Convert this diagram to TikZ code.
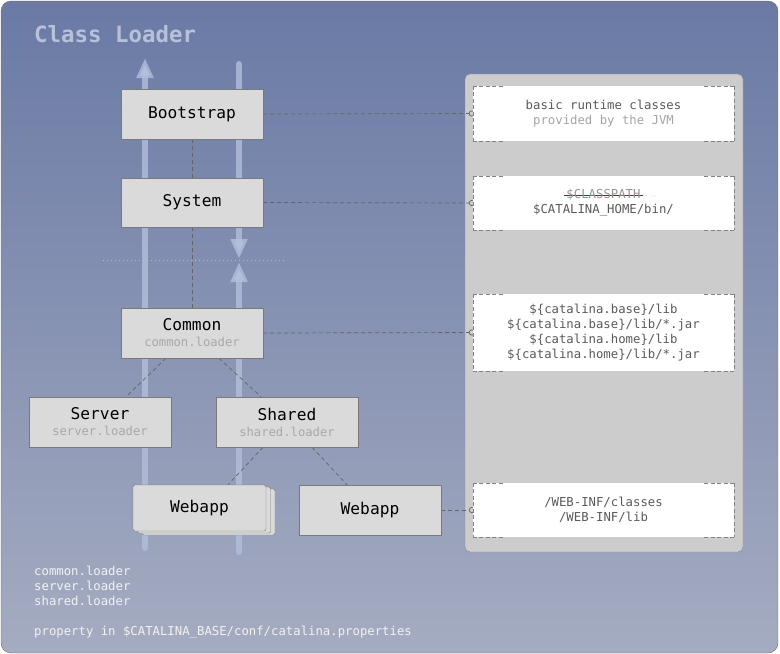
\documentclass[tikz,border=0pt]{standalone}
\usepackage{fontspec}
\usetikzlibrary{arrows.meta,shadows}
\newfontfamily\codefont{DejaVu Sans Mono}
\definecolor{bgtop}{RGB}{106,122,165}
\definecolor{bgbot}{RGB}{165,172,193}
\definecolor{outline}{RGB}{110,110,110}
\definecolor{boxfill}{RGB}{218,218,218}
\definecolor{boxline}{RGB}{122,122,122}
\definecolor{panelfill}{RGB}{204,204,204}
\definecolor{panelline}{RGB}{136,136,136}
\definecolor{dashline}{RGB}{100,100,100}
\definecolor{titlecol}{RGB}{183,193,218}
\definecolor{subtext}{RGB}{168,168,168}
\definecolor{infotext}{RGB}{90,90,90}
\definecolor{infolight}{RGB}{165,165,165}
\definecolor{foottext}{RGB}{242,242,242}
\definecolor{flowcol}{RGB}{178,190,218}
\definecolor{strikered}{RGB}{160,20,40}
\newsavebox\strikebox
\newcommand\redstrike[1]{\sbox\strikebox{#1}\rlap{\textcolor{strikered}{\rule[0.45ex]{\wd\strikebox}{1pt}}}\usebox\strikebox}
\pgfdeclarelayer{back}
\pgfdeclarelayer{mid}
\pgfsetlayers{back,mid,main}

\begin{document}
\begin{tikzpicture}[x=1pt,y=-1pt,
  loader/.style={draw=boxline,fill=boxfill,minimum width=142pt,minimum height=50pt,inner sep=0pt,align=center,
    font=\codefont\fontsize{16.2}{18}\selectfont},
  info/.style={fill=white,minimum width=261pt,inner sep=0pt,align=center,text=infotext,
    font=\codefont\fontsize{12.3}{15}\selectfont},
  infoedge/.style={draw=dashline!80,dash pattern=on 4pt off 2.5pt,line width=0.6pt},
  link/.style={draw=dashline,dash pattern=on 4pt off 3pt,line width=0.7pt},
  flow/.style={draw=flowcol,draw opacity=0.8,line width=6pt,line cap=round,-{Triangle[width=16pt,length=20pt]}}]
\useasboundingbox (0,0) rectangle (780,654);
\begin{pgfonlayer}{back}
  \path[draw=outline,top color=bgtop,bottom color=bgbot,rounded corners=10pt] (1,1) rectangle (778,653);
  \path[draw=panelline,fill=panelfill,rounded corners=5pt] (465,74) rectangle (743,552);
  \draw[flow] (145,548) -- (145,58);
  \draw[flow] (239,64) -- (239,259);
  \draw[flow] (239,552) -- (239,262);
  \draw[flowcol,dash pattern=on 1pt off 3pt] (103,260) -- (285,260);
\end{pgfonlayer}

\node[anchor=base west,inner sep=0pt,text=titlecol,font=\codefont\bfseries\fontsize{22.4}{24}\selectfont] (title) at (34,42) {Class Loader};

\node[loader] (bootstrap) at (192,114) {Bootstrap};
\node[loader,minimum height=49pt] (system) at (192,202.5) {System};
\node[loader] (common) at (192,333) {Common\\[-2pt]{\fontsize{12.2}{14}\selectfont\color{subtext}common.loader}};
\node[loader] (server) at (100,422) {Server\\[-2pt]{\fontsize{12.2}{14}\selectfont\color{subtext}server.loader}};
\node[loader] (shared) at (287,422) {Shared\\[-2pt]{\fontsize{12.2}{14}\selectfont\color{subtext}shared.loader}};
\node[loader,minimum width=133pt,minimum height=46pt,rounded corners=2pt,
  double copy shadow={shadow xshift=4.5pt,shadow yshift=-2pt,fill=boxfill,draw=boxline,thin}] (webapps) at (199.5,508) {Webapp};
\node[loader] (webapp) at (370,510) {Webapp};

\node[info,minimum height=55pt] (jvm) at (603.5,113.5) {basic runtime classes\\\textcolor{infolight}{provided by the JVM}};
\node[info,minimum height=54pt] (cpath) at (603.5,203) {{\color{infolight!90!black}\redstrike{\,\$CLASSPATH\,}}\\\$CATALINA\_HOME/bin/};
\node[info,minimum height=77pt] (clib) at (603.5,332.5) {\$\{catalina.base\}/lib\\\$\{catalina.base\}/lib/*.jar\\\$\{catalina.home\}/lib\\\$\{catalina.home\}/lib/*.jar};
\node[info,minimum height=54pt] (winf) at (603.5,510) {/WEB-INF/classes\\/WEB-INF/lib};
\foreach \b in {jvm,cpath,clib,winf} {
  \draw[infoedge] (\b.north west) -- (\b.south west) (\b.north east) -- (\b.south east);
  \draw[infoedge] (\b.north west) -- ++(30,0) (\b.north east) -- ++(-32,0)
    (\b.south west) -- ++(30,0) (\b.south east) -- ++(-32,0);
}

\node[anchor=north west,inner sep=0pt,align=left,text=foottext,font=\codefont\fontsize{12.3}{15}\selectfont] (props) at (34,566)
  {common.loader\\server.loader\\shared.loader\\[15pt]property in \$CATALINA\_BASE/conf/catalina.properties};

\begin{pgfonlayer}{mid}
  \draw[link] (bootstrap) -- (system);
  \draw[link] (system) -- (common);
  \draw[link] ([xshift=-26pt]common.south) -- ([xshift=26pt]server.north);
  \draw[link] ([xshift=27pt]common.south) -- ([xshift=-26pt]shared.north);
  \draw[link] ([xshift=-24pt]shared.south) -- ([xshift=28.5pt]webapps.north);
  \draw[link] ([xshift=25pt]shared.south) -- ([xshift=-23pt]webapp.north);
  \draw[link,-{Circle[open,length=6pt,width=6pt]}] (bootstrap.east) -- ([xshift=2pt]jvm.west);
  \draw[link,-{Circle[open,length=6pt,width=6pt]}] (system.east) -- ([xshift=2pt]cpath.west);
  \draw[link,-{Circle[open,length=6pt,width=6pt]}] (common.east) -- ([xshift=2pt]clib.west);
  \draw[link,-{Circle[open,length=6pt,width=6pt]}] (webapp.east) -- ([xshift=2pt]winf.west);
\end{pgfonlayer}
\end{tikzpicture}
\end{document}
